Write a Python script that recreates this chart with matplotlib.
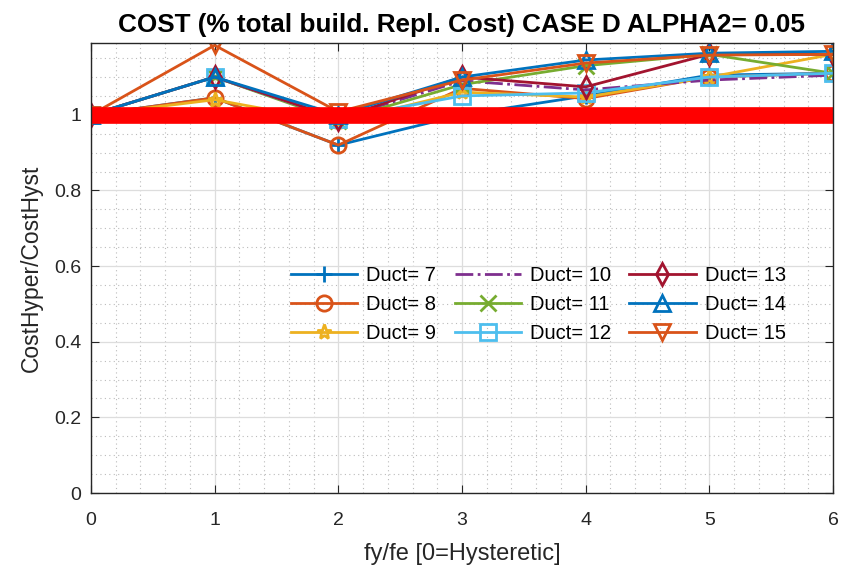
import matplotlib
import matplotlib.pyplot as plt
from matplotlib.ticker import MultipleLocator, FixedLocator

matplotlib.use("Agg")

plt.rcParams["font.family"] = ["Liberation Sans", "DejaVu Sans"]

# ratio hyper / hysteretic cost for each ductility
fy_fe = [0, 1, 2, 3, 4, 5, 6]
duct_labels = ["Duct= 7", "Duct= 8", "Duct= 9", "Duct= 10", "Duct= 11",
               "Duct= 12", "Duct= 13", "Duct= 14", "Duct= 15"]
duct7 = [1.0, 1.045, 0.92, 1.0, 1.05, 1.105, 1.11]
duct8 = [1.0, 1.045, 0.92, 1.07, 1.043, 1.10, 1.11]
duct9 = [1.0, 1.04, 0.98, 1.06, 1.047, 1.10, 1.16]
duct10 = [1.0, 1.10, 0.99, 1.09, 1.066, 1.092, 1.105]
duct11 = [1.0, 1.10, 0.985, 1.08, 1.13, 1.16, 1.11]
duct12 = [1.0, 1.10, 0.99, 1.05, 1.058, 1.10, 1.11]
duct13 = [1.0, 1.10, 0.99, 1.10, 1.074, 1.16, 1.16]
duct14 = [1.0, 1.10, 1.0, 1.10, 1.145, 1.163, 1.168]
duct15 = [1.0, 1.184, 1.008, 1.092, 1.137, 1.158, 1.16]
reference = [1, 1, 1, 1, 1, 1, 1]

series = [duct7, duct8, duct9, duct10, duct11, duct12, duct13, duct14, duct15]
colors = ["#0072BD", "#D95319", "#EDB120", "#7E2F8E", "#77AC30",
          "#4DBEEE", "#A2142F", "#0072BD", "#D95319"]
markers = ["+", "o", "*", "None", "x", "s", "d", "^", "v"]
styles = ["-", "-", "-", "-.", "-", "-", "-", "-", "-"]

fig = plt.figure(figsize=(8.49, 5.81), dpi=100)
ax = fig.add_axes([91 / 849, 1 - 493 / 581, 742 / 849, 450 / 581])

for ys, lab, c, m, ls in zip(series, duct_labels, colors, markers, styles):
    ax.plot(fy_fe, ys, color=c, marker=m, linestyle=ls, linewidth=2,
            markersize=11, markeredgewidth=2, markerfacecolor="none", label=lab)

# hysteretic reference level
ax.plot(fy_fe, reference, color="#FF0000", linewidth=12, solid_capstyle="projecting")

ax.set_xlim(0, 6)
ax.set_ylim(0, 1.19)
ax.xaxis.set_major_locator(MultipleLocator(1))
ax.xaxis.set_minor_locator(MultipleLocator(0.2))
ax.yaxis.set_major_locator(FixedLocator([0, 0.2, 0.4, 0.6, 0.8, 1.0]))
ax.yaxis.set_minor_locator(MultipleLocator(0.05))
ax.set_yticklabels(["0", "0.2", "0.4", "0.6", "0.8", "1"])

ax.grid(True, which="major", color="#DDDDDD", linewidth=0.9)
ax.grid(True, which="minor", color="#BBBBBB", linestyle=(0, (1, 3)), linewidth=0.8)
ax.set_axisbelow(True)
ax.tick_params(which="both", direction="in", top=True, right=True, labelsize=14,
               colors="#262626", pad=7)
ax.tick_params(axis="x", which="major", pad=14)
ax.tick_params(which="major", length=6)
ax.tick_params(which="minor", length=0)
for s in ax.spines.values():
    s.set_color("#262626")
    s.set_linewidth(1.0)

ax.set_xlabel("fy/fe [0=Hysteretic]", fontsize=17, color="#262626", labelpad=10)
ax.set_ylabel("CostHyper/CostHyst", fontsize=16.5, color="#262626", labelpad=8)
ax.set_title("COST (% total build. Repl. Cost) CASE D ALPHA2= 0.05",
             fontsize=18.8, fontweight="bold", pad=8)

ax.legend(loc="upper left", bbox_to_anchor=(0.245, 0.545), ncol=3, frameon=False,
          fontsize=14.5, handlelength=3.3, columnspacing=0.9, labelspacing=0.5,
          handletextpad=0.45)

fig.savefig("out.png", dpi=100)
